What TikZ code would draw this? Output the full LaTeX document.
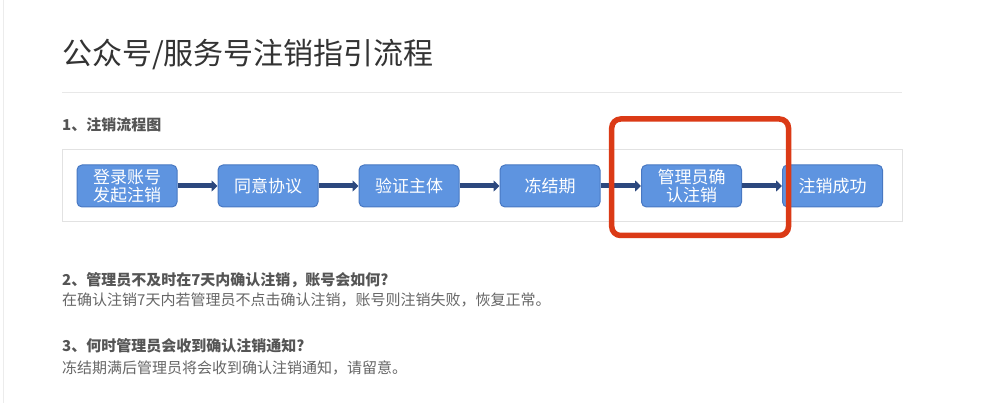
\documentclass[tikz,border=0pt]{standalone}
\usepackage{fontspec}
\setmainfont{Noto Sans CJK SC}
\usetikzlibrary{arrows.meta}
\definecolor{boxfill}{RGB}{94,148,224}
\definecolor{boxline}{RGB}{72,120,194}
\definecolor{arrowc}{RGB}{44,72,126}
\definecolor{redc}{RGB}{219,58,22}
\definecolor{titlec}{RGB}{51,51,51}
\definecolor{headc}{RGB}{85,85,85}
\definecolor{bodyc}{RGB}{102,102,102}
\definecolor{framec}{RGB}{226,226,226}
\tikzset{
  stepbox/.style={draw=boxline, fill=boxfill, line width=1pt, rounded corners=5pt,
    minimum width=100pt, minimum height=42pt, inner sep=0pt, text=white,
    font=\fontsize{17}{20}\selectfont, align=center},
  flowarrow/.style={draw=arrowc, line width=5pt, -{Triangle[length=6pt,width=11pt]}},
  txt/.style={anchor=west, inner sep=0pt},
}
\begin{document}
\begin{tikzpicture}[x=1pt,y=-1pt]
\useasboundingbox (0,0) rectangle (1003,403);
\fill[white] (0,0) rectangle (1003,403);
\draw[color={rgb,255:red,236;green,236;blue,236}, line width=1pt] (3.5,0) -- (3.5,403);
\node[txt, text=titlec, font=\fontsize{30}{34}\selectfont] (title) at (62,54) {公众号/服务号注销指引流程};
\draw[color={rgb,255:red,232;green,232;blue,232}, line width=1pt] (62,92.5) -- (902,92.5);
\node[txt, text=headc, font=\fontsize{15}{18}\selectfont\bfseries] (h1) at (62,125) {1、注销流程图};
\draw[framec, line width=1pt] (62.5,149.5) rectangle (902.5,221.5);
\node[stepbox] (b1) at (127,186) {登录账号\\[-2pt]发起注销};
\node[stepbox] (b2) at (268,186) {同意协议};
\node[stepbox] (b3) at (409,186) {验证主体};
\node[stepbox] (b4) at (550,186) {冻结期};
\node[stepbox] (b5) at (691.5,186) {管理员确\\[-2pt]认注销};
\node[stepbox] (b6) at (832.5,186) {注销成功};
\draw[flowarrow] (b1) -- (b2);
\draw[flowarrow] (b2) -- (b3);
\draw[flowarrow] (b3) -- (b4);
\draw[flowarrow] (b4) -- (b5);
\draw[flowarrow] (b5) -- (b6);
\draw[redc, line width=5.5pt, rounded corners=9pt] (611.7,119) rectangle (788.5,235.5);
\node[txt, text=headc, font=\fontsize{15}{18}\selectfont\bfseries] (h2) at (62,280) {2、管理员不及时在7天内确认注销，账号会如何?};
\node[txt, text=bodyc, font=\fontsize{15}{18}\selectfont] (p2) at (62,300) {在确认注销7天内若管理员不点击确认注销，账号则注销失败，恢复正常。};
\node[txt, text=headc, font=\fontsize{15}{18}\selectfont\bfseries] (h3) at (62,345.5) {3、何时管理员会收到确认注销通知?};
\node[txt, text=bodyc, font=\fontsize{15}{18}\selectfont] (p3) at (62,368) {冻结期满后管理员将会收到确认注销通知，请留意。};
\end{tikzpicture}
\end{document}
